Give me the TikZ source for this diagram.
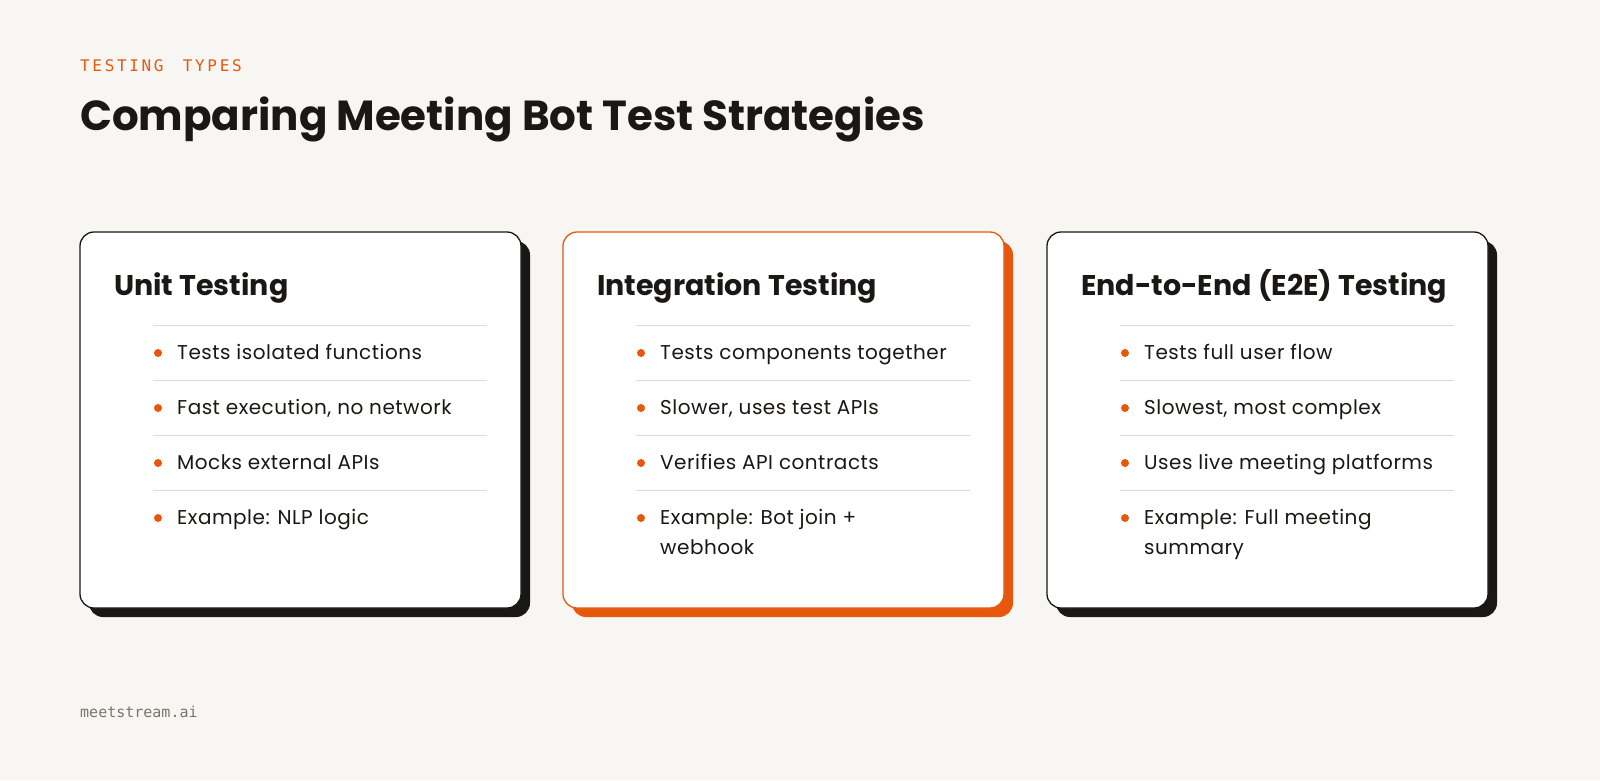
\documentclass[tikz,border=0pt]{standalone}
\usepackage{fontspec}
\setmainfont{Poppins}
\newfontfamily\itemfont{Poppins}[LetterSpace=2.5]
\setmonofont{DejaVu Sans Mono}
\definecolor{bg}{HTML}{F7F6F3}
\definecolor{org}{HTML}{E8580C}
\definecolor{ink}{HTML}{1A1815}
\definecolor{sep}{HTML}{DDDAD4}
\definecolor{foot}{HTML}{7A756C}
\begin{document}
\begin{tikzpicture}[x=1pt,y=-1pt,
  card/.style={draw=ink,line width=1.3pt,fill=white,rounded corners=14pt},
  shadow/.style={fill=ink,rounded corners=14pt},
  ctitle/.style={anchor=base west,font=\fontsize{28.5}{30}\selectfont\bfseries,text=ink,inner sep=0},
  item/.style={anchor=north west,font=\itemfont\fontsize{20}{30}\selectfont,text=ink,inner sep=0,align=left},
  dot/.style={circle,fill=org,inner sep=0,minimum size=8pt}]
\fill[bg] (0,0) rectangle (1600,780);
\useasboundingbox (0,0) rectangle (1600,780);
\node[anchor=base west,inner sep=0,text=org,font=\ttfamily\fontsize{16}{16}\selectfont] (kick) at (80,71) {T\,E\,S\,T\,I\,N\,G\ \ T\,Y\,P\,E\,S};
\node[anchor=base west,inner sep=0,text=ink,font=\fontsize{42}{44}\selectfont\bfseries] (title) at (80,130) {Comparing Meeting Bot Test Strategies};
\node[anchor=base west,inner sep=0,text=foot,font=\ttfamily\fontsize{15}{16}\selectfont] (footer) at (80,717) {meetstream.ai};
\foreach \x/\sc/\bc/\t/\a/\b/\c/\d [count=\i] in {
 80/ink/ink/{Unit Testing}/{Tests isolated functions}/{Fast execution, no network}/{Mocks external APIs}/{Example: NLP logic},
 563/org/org/{Integration Testing}/{Tests components together}/{Slower, uses test APIs}/{Verifies API contracts}/{Example: Bot join +\\webhook},
 1047/ink/ink/{End-to-End (E2E) Testing}/{Tests full user flow}/{Slowest, most complex}/{Uses live meeting platforms}/{Example: Full meeting\\summary}}{
 \fill[shadow,fill=\sc] (\x+9,241) rectangle (\x+450,617);
 \draw[card,draw=\bc] (\x,232) rectangle (\x+441,608);
 \node[ctitle] (t\i) at (\x+34,295) {\t};
 \foreach \yy in {325,380,435,490} \draw[sep,line width=0.8pt] (\x+73,\yy) -- (\x+407,\yy);
 \foreach \s/\yy [count=\j] in {\a/360,\b/415,\c/470,\d/525}{
   \node[dot] (d\i\j) at (\x+78,\yy-7) {};
   \node[item] (i\i\j) at (\x+97,\yy-16) {\s};
 }
}
\end{tikzpicture}
\end{document}
